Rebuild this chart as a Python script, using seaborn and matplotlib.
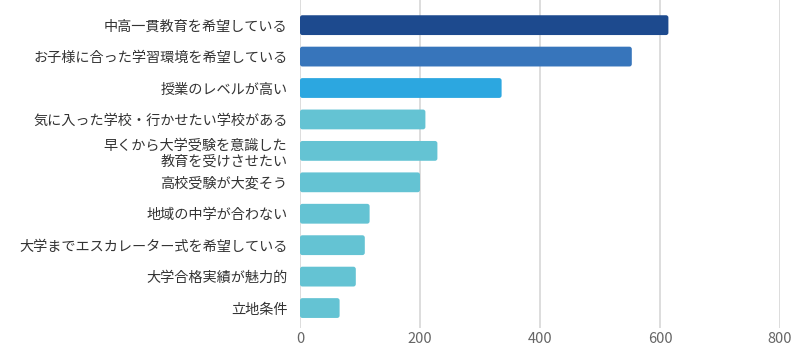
import matplotlib
matplotlib.use("Agg")
import matplotlib.pyplot as plt
from matplotlib.patches import FancyBboxPatch
import seaborn as sns
import pandas as pd

sns.set_theme(style="white")
plt.rcParams["font.family"] = ["Noto Sans CJK JP", "DejaVu Sans"]

reasons = [
    "中高一貫教育を希望している",
    "お子様に合った学習環境を希望している",
    "授業のレベルが高い",
    "気に入った学校・行かせたい学校がある",
    "早くから大学受験を意識した\n教育を受けさせたい",
    "高校受験が大変そう",
    "地域の中学が合わない",
    "大学までエスカレーター式を希望している",
    "大学合格実績が魅力的",
    "立地条件",
]
counts = [614, 553, 336, 209, 229, 200, 116, 108, 93, 66]
bar_colors = ["#1d4a8e", "#3775bb", "#2ca7e0", "#64c3d3", "#64c3d3",
              "#64c3d3", "#64c3d3", "#64c3d3", "#64c3d3", "#64c3d3"]
x_ticks = [0, 200, 400, 600, 800]

df = pd.DataFrame({"reason": reasons, "count": counts})

fig = plt.figure(figsize=(8, 3.48), dpi=100)
ax = fig.add_axes([0.375, 0.057, 0.6, 0.943])

sns.barplot(data=df, x="count", y="reason", hue="reason", palette=bar_colors,
            saturation=1, legend=False, width=0.63, ax=ax, zorder=3)

ax.set_xlim(0, 800)
ax.set_ylim(9.64, -0.8)

# swap each bar for a copy with slightly rounded corners
px_per_x = 480 / 800
px_per_y = 328 / (9.64 + 0.8)
for patch in list(ax.patches):
    rounded = FancyBboxPatch((patch.get_x(), patch.get_y()),
                             patch.get_width(), patch.get_height(),
                             boxstyle="round,pad=0,rounding_size=4",
                             mutation_aspect=px_per_x / px_per_y,
                             facecolor=patch.get_facecolor(), edgecolor="none",
                             zorder=3)
    patch.remove()
    ax.add_patch(rounded)

ax.set_xticks(x_ticks)
ax.set_xticklabels([str(t) for t in x_ticks])
ax.xaxis.grid(True, color="#dddddd", linewidth=1.4, zorder=0)
ax.yaxis.grid(False)
for s in ax.spines.values():
    s.set_visible(False)

ax.set_xlabel("")
ax.set_ylabel("")
ax.tick_params(axis="x", length=0, pad=3, labelsize=10.5, labelcolor="#666666")
ax.tick_params(axis="y", length=0, pad=9, labelsize=10.2, labelcolor="#333333")
for lbl in ax.get_yticklabels():
    lbl.set_horizontalalignment("right")
    lbl.set_multialignment("right")
    lbl.set_linespacing(1.25)

fig.savefig("out.png", dpi=100, facecolor="white")
